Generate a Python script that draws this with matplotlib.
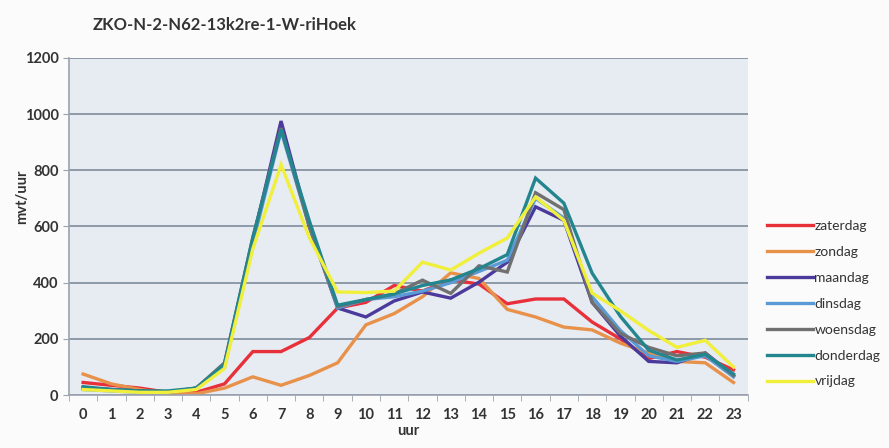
"""
Hourly traffic intensity per weekday for counting point ZKO-N-2-N62-13k2re-1-W-riHoek.
"""
import matplotlib
matplotlib.use("Agg")
import matplotlib.pyplot as plt
from matplotlib.ticker import MultipleLocator

plt.rcParams["font.family"] = ["Lato", "DejaVu Sans"]

hours = list(range(24))
zaterdag = [45, 35, 25, 10, 10, 40, 155, 155, 205, 310, 330, 390, 370, 410, 395, 325, 342, 342, 260, 200, 130, 155, 135, 90]
zondag = [75, 40, 20, 5, 5, 25, 65, 35, 70, 115, 250, 290, 350, 435, 415, 305, 278, 242, 232, 185, 150, 120, 115, 45]
maandag = [25, 20, 15, 10, 25, 110, 550, 975, 600, 310, 278, 335, 367, 345, 402, 473, 670, 622, 330, 210, 120, 115, 150, 70]
dinsdag = [20, 15, 10, 10, 25, 100, 540, 940, 600, 310, 340, 350, 370, 400, 440, 480, 700, 630, 350, 230, 140, 120, 140, 65]
woensdag = [25, 20, 15, 10, 25, 115, 560, 950, 600, 315, 340, 360, 409, 362, 460, 438, 720, 660, 330, 220, 170, 140, 150, 70]
donderdag = [30, 20, 15, 15, 25, 110, 560, 945, 620, 320, 340, 360, 390, 410, 450, 500, 772, 683, 434, 280, 160, 125, 145, 75]
vrijdag = [20, 15, 10, 10, 20, 95, 520, 820, 560, 367, 365, 370, 473, 445, 505, 559, 705, 622, 363, 300, 230, 170, 195, 100]

series = [
    ("zaterdag", zaterdag, "#e8303a"),
    ("zondag", zondag, "#e8914a"),
    ("maandag", maandag, "#4b3a9c"),
    ("dinsdag", dinsdag, "#5b9bd5"),
    ("woensdag", woensdag, "#707070"),
    ("donderdag", donderdag, "#23868f"),
    ("vrijdag", vrijdag, "#f0f03c"),
]

fig = plt.figure(figsize=(8.89, 4.48), dpi=100)
fig.patch.set_facecolor("#fbfbfb")
ax = fig.add_axes([0.0776, 0.118, 0.7634, 0.753])
ax.set_facecolor("#e7ebf2")

for name, vals, color in series:
    ax.plot(hours, vals, color=color, lw=2.4, label=name, solid_joinstyle="miter")

ax.set_xlim(-0.5, 23.5)
ax.set_ylim(0, 1200)
ax.yaxis.set_major_locator(MultipleLocator(200))
ax.set_xticks(hours)
ax.set_xticks([h + 0.5 for h in range(-1, 24)], minor=True)
ax.grid(axis="y", color="#8e99a8", lw=1.4)
ax.set_axisbelow(True)

for side in ["top", "right"]:
    ax.spines[side].set_visible(False)
ax.spines["left"].set_color("#9aa3ae")
ax.spines["bottom"].set_color("#9aa3ae")
ax.spines["left"].set_linewidth(1.2)
ax.spines["bottom"].set_linewidth(1.2)

ax.tick_params(axis="x", which="major", length=0, labelsize=10.5, colors="#333333", pad=9)
ax.tick_params(axis="x", which="minor", length=4, color="#9aa3ae")
ax.tick_params(axis="y", length=4, color="#9aa3ae", labelsize=10.5, colors="#333333")
for lbl in ax.get_xticklabels() + ax.get_yticklabels():
    lbl.set_fontweight("bold")

ax.set_xlabel("uur", fontsize=10.5, fontweight="bold", color="#333333", labelpad=2)
fig.text(22 / 889, 0.56, "mvt/uur", fontsize=10.5, fontweight="bold", color="#333333",
         rotation=90, ha="center", va="center")
fig.text(0.104, 0.945, "ZKO-N-2-N62-13k2re-1-W-riHoek", fontsize=12, fontweight="bold",
         color="#333333", ha="left", va="center")

fig.legend(loc="center left", bbox_to_anchor=(0.849, 0.322), frameon=False, fontsize=10,
           handlelength=3.3, handletextpad=0.1, labelspacing=1.0, labelcolor="#333333")

plt.savefig("out.png", dpi=100, facecolor=fig.get_facecolor())
